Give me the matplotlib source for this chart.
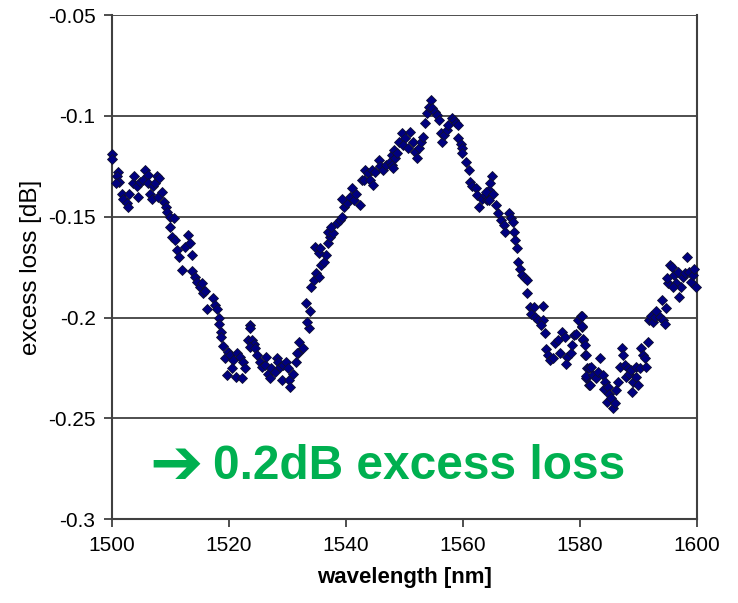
import matplotlib
matplotlib.use('Agg')
import matplotlib.pyplot as plt

# values (wavelength in nm, excess loss in dB)
wavelength = [
    1500.0, 1500.0, 1501.0, 1500.8, 1501.2, 1500.6, 1501.7, 1501.9, 1502.5, 1502.7,
    1502.9, 1503.5, 1503.8, 1504.2, 1504.5, 1504.8, 1505.2, 1505.6, 1506.1, 1506.2,
    1506.5, 1506.8, 1507.0, 1507.3, 1507.6, 1508.0, 1507.8, 1508.5, 1508.9, 1509.2,
    1509.3, 1509.9, 1510.5, 1509.9, 1510.2, 1510.8, 1511.1, 1511.5, 1511.9, 1512.5,
    1513.0, 1513.3, 1513.7, 1513.7, 1514.2, 1514.5, 1515.0, 1515.6,
    1515.3, 1515.9, 1517.2, 1517.6, 1516.3, 1518.0, 1518.3, 1518.2, 1518.7, 1518.6,
    1519.0, 1519.9, 1519.3, 1520.2, 1520.7, 1520.5, 1519.6, 1521.2, 1522.2, 1521.4,
    1521.9, 1522.4, 1522.7, 1523.5, 1523.6, 1523.3, 1523.9, 1524.3, 1523.6, 1524.4,
    1524.8, 1525.3, 1525.6, 1526.2, 1526.4, 1526.7, 1527.1, 1527.0, 1527.9, 1528.2,
    1528.4, 1528.7, 1529.0, 1529.3, 1529.7, 1530.0, 1530.3, 1530.5, 1531.0, 1531.5,
    1531.8, 1532.0,
    1532.7, 1531.6, 1533.6, 1533.3, 1533.8, 1533.1, 1534.1, 1534.6, 1534.8, 1535.3,
    1535.8, 1536.3, 1536.5, 1535.3, 1534.7, 1535.6, 1536.9, 1537.3, 1537.0, 1537.8,
    1537.5, 1538.4, 1539.0, 1539.3, 1539.6, 1540.1, 1539.3, 1540.7, 1541.0, 1541.4,
    1541.8, 1542.4, 1542.7, 1543.2, 1543.0, 1543.8, 1544.1, 1544.7, 1544.4, 1545.0,
    1545.6, 1545.8, 1546.4, 1546.9, 1547.5, 1547.9, 1548.3,
    1547.8, 1548.4, 1548.8, 1548.1, 1549.1, 1549.5, 1550.1, 1549.8, 1550.6, 1551.0,
    1551.4, 1551.8, 1552.1, 1552.5, 1552.9, 1553.2, 1553.5, 1553.9, 1554.2, 1554.5,
    1554.8, 1555.2, 1555.6, 1556.0, 1556.2, 1556.5, 1556.8, 1557.2, 1557.5, 1558.1,
    1558.5, 1558.8, 1559.2, 1559.2, 1559.6, 1559.8, 1559.9, 1560.6, 1561.1, 1561.2,
    1561.6, 1562.2, 1562.4, 1562.8, 1563.2, 1563.8, 1564.2, 1564.5,
    1564.9, 1564.6, 1564.0, 1565.2, 1564.4, 1565.6, 1566.0, 1566.5, 1567.1, 1567.2,
    1567.9, 1568.2, 1568.6, 1568.8, 1569.0, 1569.2, 1569.5, 1569.7, 1570.1, 1570.6,
    1571.0, 1571.0, 1571.5, 1572.2, 1571.6, 1572.3, 1572.9, 1573.7, 1573.7, 1573.3,
    1574.1, 1574.3, 1574.5, 1574.9, 1575.4, 1575.7, 1576.2, 1576.6, 1577.0, 1577.4,
    1577.9, 1577.7, 1578.5, 1578.7, 1579.0, 1579.4, 1579.7, 1580.2, 1580.4, 1580.6,
    1580.9, 1581.3, 1581.1, 1581.5,
    1580.4, 1580.3, 1580.6, 1580.9, 1581.0, 1581.5, 1582.0, 1581.1, 1582.3, 1581.7,
    1582.7, 1583.1, 1583.4, 1583.9, 1584.3, 1584.1, 1584.8, 1585.0, 1584.6, 1585.4,
    1585.6, 1586.0, 1586.2, 1586.6, 1586.9, 1587.2, 1587.4, 1587.8, 1587.9, 1588.3,
    1588.5, 1588.8, 1589.1, 1589.6, 1590.0, 1589.0, 1589.7, 1590.3, 1590.5, 1590.8,
    1591.1, 1591.4, 1591.6, 1591.9, 1592.2, 1592.5, 1592.9, 1593.1, 1593.7, 1594.0,
    1594.2, 1594.5, 1594.8, 1595.1, 1594.9, 1595.4, 1595.8, 1596.2, 1596.8, 1596.5,
    1597.0, 1597.3, 1597.6, 1598.0, 1598.4, 1598.7, 1599.0, 1599.3, 1599.6, 1599.8,
    1595.9,
]
excess_loss = [
    -0.119, -0.1216, -0.1277, -0.130, -0.1327, -0.1335, -0.1385, -0.141, -0.1434, -0.1451,
    -0.1385, -0.1335, -0.130, -0.135, -0.140, -0.1327, -0.132, -0.127, -0.1294, -0.1335,
    -0.1385, -0.141, -0.135, -0.1335, -0.130, -0.131, -0.140, -0.1376, -0.1426, -0.1451,
    -0.1476, -0.150, -0.1504, -0.155, -0.160, -0.1616, -0.1666, -0.170, -0.1765, -0.165,
    -0.159, -0.163, -0.169, -0.177, -0.1798, -0.1823, -0.1848, -0.188,
    -0.183, -0.187, -0.1905, -0.194, -0.196, -0.196, -0.2004, -0.203, -0.207, -0.2095,
    -0.214, -0.217, -0.220, -0.2187, -0.221, -0.225, -0.2286, -0.2295, -0.230, -0.2178,
    -0.2195, -0.222, -0.225, -0.2038, -0.2054, -0.211, -0.211, -0.213, -0.2145, -0.2153,
    -0.2187, -0.222, -0.2245, -0.2236, -0.2195, -0.2278, -0.225, -0.230, -0.227, -0.220,
    -0.222, -0.2245, -0.231, -0.2236, -0.222, -0.225, -0.231, -0.2344, -0.2278, -0.222,
    -0.2178, -0.212,
    -0.2153, -0.2178, -0.2054, -0.202, -0.197, -0.193, -0.1848, -0.1815, -0.178, -0.180,
    -0.174, -0.1724, -0.169, -0.168, -0.165, -0.1657, -0.163, -0.160, -0.1575, -0.158,
    -0.155, -0.1533, -0.1517, -0.150, -0.1451, -0.1434, -0.141, -0.140, -0.136, -0.1418,
    -0.1385, -0.144, -0.1318, -0.127, -0.132, -0.1285, -0.132, -0.1343, -0.127, -0.1277,
    -0.122, -0.125, -0.127, -0.1244, -0.123, -0.1194, -0.117,
    -0.1244, -0.121, -0.1186, -0.126, -0.1128, -0.1087, -0.111, -0.1145, -0.116, -0.108,
    -0.1128, -0.118, -0.121, -0.116, -0.1128, -0.1103, -0.1037, -0.0988, -0.0955, -0.0922,
    -0.0963, -0.098, -0.0996, -0.102, -0.1087, -0.1128, -0.1095, -0.107, -0.1045, -0.1012,
    -0.102, -0.1034, -0.1045, -0.111, -0.1137, -0.116, -0.1186, -0.1228, -0.127, -0.1327,
    -0.135, -0.136, -0.1393, -0.1451, -0.141, -0.1393, -0.1418, -0.1368,
    -0.130, -0.1335, -0.1376, -0.1385, -0.1418, -0.144, -0.1484, -0.1514, -0.154, -0.1575,
    -0.1484, -0.1508, -0.1525, -0.1575, -0.1616, -0.1657, -0.1724, -0.1757, -0.179, -0.1806,
    -0.1815, -0.188, -0.1947, -0.1947, -0.198, -0.1997, -0.2013, -0.1943, -0.2013, -0.2038,
    -0.2076, -0.2158, -0.2187, -0.221, -0.220, -0.2128, -0.211, -0.2178, -0.207, -0.2095,
    -0.2195, -0.2228, -0.2178, -0.2137, -0.2087, -0.208, -0.2013, -0.199, -0.2045, -0.211,
    -0.2187, -0.225, -0.230, -0.2334,
    -0.199, -0.204, -0.2104, -0.2137, -0.2187, -0.225, -0.2245, -0.229, -0.2286, -0.2335,
    -0.230, -0.227, -0.220, -0.2286, -0.232, -0.2352, -0.2344, -0.2377, -0.2418, -0.240,
    -0.245, -0.2426, -0.236, -0.232, -0.2245, -0.2153, -0.2187, -0.2236, -0.2294, -0.225,
    -0.2278, -0.226, -0.232, -0.2294, -0.2335, -0.2368, -0.2245, -0.225, -0.2153, -0.2187,
    -0.220, -0.2245, -0.212, -0.2013, -0.199, -0.202, -0.1997, -0.197, -0.1997, -0.1913,
    -0.2013, -0.203, -0.1955, -0.183, -0.1806, -0.174, -0.1749, -0.179, -0.1774, -0.183,
    -0.1897, -0.1848, -0.1798, -0.178, -0.170, -0.1774, -0.1823, -0.179, -0.1757, -0.1848,
    -0.1848,
]

x_ticks = [1500, 1520, 1540, 1560, 1580, 1600]
y_ticks = [-0.3, -0.25, -0.2, -0.15, -0.1, -0.05]
y_labels = ['-0.3', '-0.25', '-0.2', '-0.15', '-0.1', '-0.05']

plt.rcParams['font.family'] = ['Liberation Sans', 'DejaVu Sans']
line_col = '#404040'

fig = plt.figure(figsize=(7.38, 6.03), dpi=100)
ax = fig.add_axes([0.152, 0.139, 0.792, 0.836])

ax.plot(wavelength, excess_loss, linestyle='none', marker='D', markersize=5.3,
        markerfacecolor='#000080', markeredgecolor='#101030', markeredgewidth=0.6,
        zorder=3, clip_on=False)

ax.set_xlim(1500, 1600)
ax.set_ylim(-0.3, -0.05)
ax.set_xticks(x_ticks)
ax.set_yticks(y_ticks)
ax.set_yticklabels(y_labels)
ax.tick_params(direction='out', length=6, width=1.3, color=line_col,
               labelsize=15, pad=6)
ax.yaxis.grid(True, color=line_col, linewidth=1.3)
ax.set_axisbelow(True)
for side in ['left', 'bottom', 'right']:
    ax.spines[side].set_color(line_col)
    ax.spines[side].set_linewidth(1.5)
ax.spines['top'].set_visible(False)

ax.set_xlabel('wavelength [nm]', fontsize=16, fontweight='bold', labelpad=9)
ax.set_ylabel('excess loss [dB]', fontsize=17.5, labelpad=4)

# heavy arrow glyph comes from DejaVu, the words from Liberation Sans
ax.text(0.063, 0.105, '\u2794', transform=ax.transAxes,
        fontsize=46, fontweight='bold', color='#00B050', va='center', ha='left',
        family=['DejaVu Sans'])
ax.text(0.173, 0.105, '0.2dB excess loss', transform=ax.transAxes,
        fontsize=34.5, fontweight='bold', color='#00B050', va='center', ha='left',
        family=['Liberation Sans', 'DejaVu Sans'])

plt.savefig('out.png', dpi=100)
